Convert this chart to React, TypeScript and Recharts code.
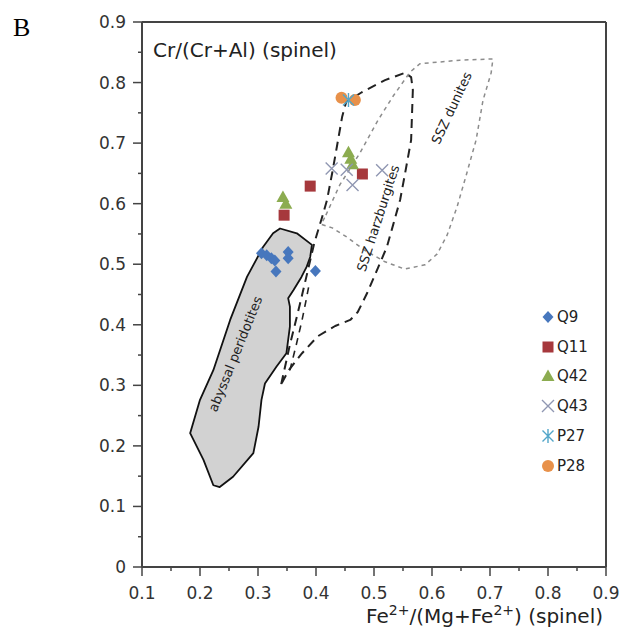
import React from 'react';
import { ScatterChart, Scatter, XAxis, YAxis, ReferenceLine, Legend } from 'recharts';

// tick positions (major every 0.1, minor every 0.05)
const xTicks = [0.1, 0.15, 0.2, 0.25, 0.3, 0.35, 0.4, 0.45, 0.5, 0.55, 0.6, 0.65, 0.7, 0.75, 0.8, 0.85, 0.9];
const yTicks = [0, 0.05, 0.1, 0.15, 0.2, 0.25, 0.3, 0.35, 0.4, 0.45, 0.5, 0.55, 0.6, 0.65, 0.7, 0.75, 0.8, 0.85, 0.9];

// samples
const q9 = [
  { x: 0.306, y: 0.518 }, { x: 0.315, y: 0.515 }, { x: 0.323, y: 0.51 }, { x: 0.329, y: 0.506 },
  { x: 0.331, y: 0.488 }, { x: 0.352, y: 0.52 }, { x: 0.352, y: 0.51 }, { x: 0.399, y: 0.489 },
];
const q11 = [{ x: 0.345, y: 0.581 }, { x: 0.39, y: 0.629 }, { x: 0.48, y: 0.649 }];
const q42 = [
  { x: 0.343, y: 0.611 }, { x: 0.348, y: 0.6 },
  { x: 0.456, y: 0.685 }, { x: 0.46, y: 0.674 }, { x: 0.463, y: 0.665 },
];
const q43 = [{ x: 0.427, y: 0.658 }, { x: 0.453, y: 0.656 }, { x: 0.463, y: 0.631 }, { x: 0.514, y: 0.655 }];
const p27 = [{ x: 0.456, y: 0.771 }];
const p28 = [{ x: 0.444, y: 0.775 }, { x: 0.467, y: 0.771 }];

// fields
const abyssalField = [
  { x: 0.338, y: 0.559 }, { x: 0.367, y: 0.551 }, { x: 0.393, y: 0.532 }, { x: 0.39, y: 0.512 },
  { x: 0.384, y: 0.496 }, { x: 0.375, y: 0.479 }, { x: 0.361, y: 0.457 }, { x: 0.352, y: 0.444 },
  { x: 0.355, y: 0.43 }, { x: 0.355, y: 0.397 }, { x: 0.349, y: 0.353 }, { x: 0.332, y: 0.331 },
  { x: 0.312, y: 0.303 }, { x: 0.306, y: 0.276 }, { x: 0.301, y: 0.232 }, { x: 0.292, y: 0.188 },
  { x: 0.257, y: 0.149 }, { x: 0.234, y: 0.132 }, { x: 0.223, y: 0.135 }, { x: 0.206, y: 0.177 },
  { x: 0.183, y: 0.221 }, { x: 0.2, y: 0.276 }, { x: 0.223, y: 0.325 }, { x: 0.252, y: 0.408 },
  { x: 0.281, y: 0.479 }, { x: 0.309, y: 0.529 }, { x: 0.326, y: 0.551 },
];
const harzField = [
  { x: 0.34, y: 0.302 }, { x: 0.355, y: 0.367 }, { x: 0.372, y: 0.433 }, { x: 0.386, y: 0.49 },
  { x: 0.397, y: 0.535 }, { x: 0.41, y: 0.576 }, { x: 0.419, y: 0.606 }, { x: 0.428, y: 0.651 },
  { x: 0.436, y: 0.694 }, { x: 0.445, y: 0.743 }, { x: 0.452, y: 0.768 }, { x: 0.479, y: 0.784 },
  { x: 0.519, y: 0.804 }, { x: 0.553, y: 0.816 }, { x: 0.564, y: 0.809 }, { x: 0.567, y: 0.788 },
  { x: 0.564, y: 0.705 }, { x: 0.553, y: 0.647 }, { x: 0.545, y: 0.606 }, { x: 0.533, y: 0.565 },
  { x: 0.522, y: 0.528 }, { x: 0.505, y: 0.49 }, { x: 0.488, y: 0.452 }, { x: 0.472, y: 0.421 },
  { x: 0.459, y: 0.408 }, { x: 0.433, y: 0.398 }, { x: 0.403, y: 0.381 }, { x: 0.376, y: 0.353 },
  { x: 0.353, y: 0.325 },
];
const harzInner = [
  { x: 0.355, y: 0.325 }, { x: 0.366, y: 0.367 }, { x: 0.376, y: 0.408 }, { x: 0.383, y: 0.441 }, { x: 0.388, y: 0.466 },
];
const duniteField = [
  { x: 0.417, y: 0.581 }, { x: 0.441, y: 0.631 }, { x: 0.476, y: 0.684 }, { x: 0.507, y: 0.738 },
  { x: 0.534, y: 0.779 }, { x: 0.562, y: 0.817 }, { x: 0.579, y: 0.831 }, { x: 0.648, y: 0.837 },
  { x: 0.705, y: 0.839 }, { x: 0.702, y: 0.816 }, { x: 0.688, y: 0.771 }, { x: 0.676, y: 0.705 },
  { x: 0.659, y: 0.647 }, { x: 0.643, y: 0.594 }, { x: 0.626, y: 0.548 }, { x: 0.609, y: 0.517 },
  { x: 0.588, y: 0.499 }, { x: 0.553, y: 0.492 }, { x: 0.519, y: 0.504 }, { x: 0.484, y: 0.523 },
  { x: 0.453, y: 0.545 }, { x: 0.428, y: 0.56 }, { x: 0.409, y: 0.566 },
];
const fieldLabels = [
  { x: 0.261, y: 0.352, text: 'abyssal peridotites', angle: -68 },
  { x: 0.507, y: 0.576, text: 'SSZ harzburgites', angle: -72 },
  { x: 0.634, y: 0.758, text: 'SSZ dunites', angle: -65 },
];

const FONT = '"DejaVu Sans", Arial, sans-serif';
const AXIS = '#444';

const COLORS = {
  Q9: '#4777bd',
  Q11: '#a6383c',
  Q42: '#8cac50',
  Q43: '#9097b2',
  P27: '#52a6c9',
  P28: '#e8914a',
};

const marker = (name: string, cx: number, cy: number) => {
  const c = (COLORS as any)[name];
  switch (name) {
    case 'Q9':
      return <path d={`M${cx},${cy - 6} L${cx + 5.5},${cy} L${cx},${cy + 6} L${cx - 5.5},${cy} Z`} fill={c} />;
    case 'Q11':
      return <rect x={cx - 5.5} y={cy - 5.5} width={11} height={11} fill={c} />;
    case 'Q42':
      return <path d={`M${cx},${cy - 6.5} L${cx + 6.5},${cy + 5} L${cx - 6.5},${cy + 5} Z`} fill={c} />;
    case 'Q43':
      return (
        <path d={`M${cx - 6},${cy - 6} L${cx + 6},${cy + 6} M${cx - 6},${cy + 6} L${cx + 6},${cy - 6}`} stroke={c} strokeWidth={1.4} fill="none" />
      );
    case 'P27':
      return (
        <path
          d={`M${cx},${cy - 7} L${cx},${cy + 7} M${cx - 5.5},${cy - 5.5} L${cx + 5.5},${cy + 5.5} M${cx - 5.5},${cy + 5.5} L${cx + 5.5},${cy - 5.5}`}
          stroke={c} strokeWidth={1.4} fill="none"
        />
      );
    default:
      return <circle cx={cx} cy={cy} r={6} fill={c} />;
  }
};

const shapeFor = (name: string) => (props: any) => <g>{marker(name, props.cx, props.cy)}</g>;
const noShape = () => <g />;

const fieldLine = (fill: string, stroke: string, width: number, dash: string | undefined, closed: boolean) => (props: any) => {
  const pts = props.points || [];
  const d = pts.map((p: any, i: number) => `${i ? 'L' : 'M'}${p.x},${p.y}`).join(' ') + (closed ? ' Z' : '');
  return <path d={d} fill={fill} stroke={stroke} strokeWidth={width} strokeDasharray={dash} strokeLinejoin="round" />;
};

const labelShape = (props: any) => {
  const p = props.payload || {};
  return (
    <text
      x={props.cx}
      y={props.cy}
      transform={`rotate(${p.angle} ${props.cx} ${props.cy})`}
      textAnchor="middle"
      dominantBaseline="central"
      fontFamily={FONT}
      fontSize={13}
      fill="#222"
    >
      {p.text}
    </text>
  );
};

const isMajor = (v: number) => Math.abs(v * 10 - Math.round(v * 10)) < 1e-6;
const fmt = (v: number) => (v === 0 ? '0' : v.toFixed(1));

const XTick = (props: any) => {
  const { x, y, payload } = props;
  const v = payload.value;
  const major = isMajor(v);
  return (
    <g>
      <line x1={x} y1={y} x2={x} y2={y + (major ? 9 : 4)} stroke={AXIS} strokeWidth={1.5} />
      {major && (
        <text x={x} y={y + 32} textAnchor="middle" fontFamily={FONT} fontSize={17} fill="#333">
          {fmt(v)}
        </text>
      )}
    </g>
  );
};

const YTick = (props: any) => {
  const { x, y, payload } = props;
  const v = payload.value;
  const major = isMajor(v);
  return (
    <g>
      <line x1={x} y1={y} x2={x - (major ? 9 : 4)} y2={y} stroke={AXIS} strokeWidth={1.5} />
      {major && (
        <text x={x - 16} y={y + 6} textAnchor="end" fontFamily={FONT} fontSize={17} fill="#333">
          {fmt(v)}
        </text>
      )}
    </g>
  );
};

const xTitle = (props: any) => {
  const vb = props.viewBox || { x: 142, y: 567, width: 464 };
  return (
    <text x={vb.x + vb.width - 3} y={vb.y + 56} textAnchor="end" fontFamily={FONT} fontSize={20} fill="#222">
      Fe<tspan dy={-8} fontSize={14}>2+</tspan>
      <tspan dy={8}>/(Mg+Fe</tspan>
      <tspan dy={-8} fontSize={14}>2+</tspan>
      <tspan dy={8}>) (spinel)</tspan>
    </text>
  );
};

const yTitle = (props: any) => {
  const vb = props.viewBox || { x: 0, y: 22, width: 142 };
  return (
    <text x={vb.x + vb.width + 11} y={vb.y + 35} fontFamily={FONT} fontSize={20} fill="#222">
      Cr/(Cr+Al) (spinel)
    </text>
  );
};

const legendNames = ['Q9', 'Q11', 'Q42', 'Q43', 'P27', 'P28'];

const renderLegend = () => (
  <div style={{ fontFamily: FONT, fontSize: 15, color: '#222' }}>
    {legendNames.map((n) => (
      <div key={n} style={{ display: 'flex', alignItems: 'center', height: 29.8 }}>
        <svg width={18} height={18} style={{ marginRight: 1 }}>
          {marker(n, 10, 9)}
        </svg>
        <span>{n}</span>
      </div>
    ))}
  </div>
);

const series = [
  { name: 'Q9', data: q9 },
  { name: 'Q11', data: q11 },
  { name: 'Q42', data: q42 },
  { name: 'Q43', data: q43 },
  { name: 'P28', data: p28 },
  { name: 'P27', data: p27 },
];

export default function App() {
  return (
    <div style={{ position: 'absolute', left: 0, top: 0, width: 619, height: 630, background: '#fff' }}>
      <div style={{ position: 'absolute', left: 13, top: 13, fontFamily: '"Liberation Serif", "Times New Roman", serif', fontSize: 26 }}>B</div>
      <ScatterChart width={619} height={630} margin={{ top: 22, right: 13, bottom: 0, left: 0 }}>
        <XAxis
          type="number"
          dataKey="x"
          domain={[0.1, 0.9]}
          ticks={xTicks}
          interval={0}
          allowDataOverflow
          height={63}
          tickSize={0}
          tickMargin={0}
          tickLine={false}
          tick={<XTick />}
          axisLine={{ stroke: AXIS, strokeWidth: 2 }}
          label={xTitle}
        />
        <YAxis
          type="number"
          dataKey="y"
          domain={[0, 0.9]}
          ticks={yTicks}
          interval={0}
          allowDataOverflow
          width={142}
          tickSize={0}
          tickMargin={0}
          tickLine={false}
          tick={<YTick />}
          axisLine={{ stroke: AXIS, strokeWidth: 2 }}
          label={yTitle}
        />
        <ReferenceLine y={0.9} stroke={AXIS} strokeWidth={2} />
        <ReferenceLine x={0.9} stroke={AXIS} strokeWidth={2} />
        <Scatter data={abyssalField} line={fieldLine('#d2d2d2', '#111', 1.8, undefined, true)} lineType="joint" shape={noShape} legendType="none" isAnimationActive={false} />
        <Scatter data={duniteField} line={fieldLine('none', '#8c8c8c', 1.5, '4 4', true)} lineType="joint" shape={noShape} legendType="none" isAnimationActive={false} />
        <Scatter data={harzField} line={fieldLine('none', '#222', 2, '9 6', true)} lineType="joint" shape={noShape} legendType="none" isAnimationActive={false} />
        <Scatter data={harzInner} line={fieldLine('none', '#222', 1.6, '7 6', false)} lineType="joint" shape={noShape} legendType="none" isAnimationActive={false} />
        <Scatter data={fieldLabels} shape={labelShape} legendType="none" isAnimationActive={false} />
        {series.map((s) => (
          <Scatter key={s.name} name={s.name} data={s.data} shape={shapeFor(s.name)} isAnimationActive={false} />
        ))}
        <Legend
          layout="vertical"
          align="center"
          verticalAlign="middle"
          content={renderLegend}
          wrapperStyle={{ left: 538, top: 302, width: 70, height: 180 }}
        />
      </ScatterChart>
    </div>
  );
}
